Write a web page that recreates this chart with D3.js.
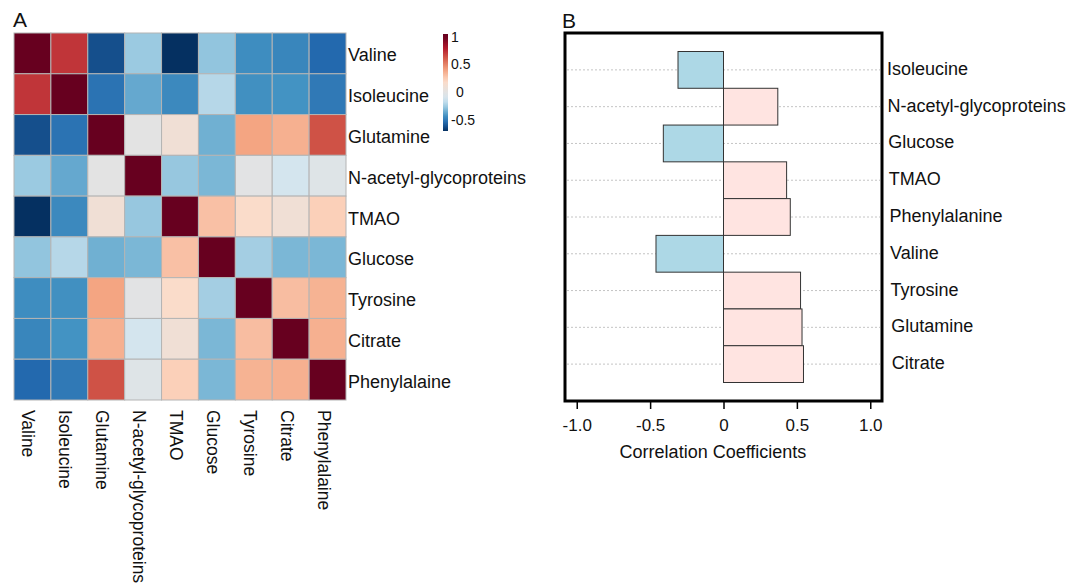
<!DOCTYPE html>
<html>
<head>
<meta charset="utf-8">
<script src="https://cdn.jsdelivr.net/npm/d3@7"></script>
<style>
  body { margin: 0; background: #fff; }
  text { font-family: "Liberation Sans", Arial, sans-serif; fill: #111; }
</style>
</head>
<body>
<div id="chart"></div>
<script>
// panel A: correlation matrix
const heatLabels = ["Valine", "Isoleucine", "Glutamine", "N-acetyl-glycoproteins", "TMAO",
  "Glucose", "Tyrosine", "Citrate", "Phenylalaine"];
const heatValues = [
  [1.00, 0.72, -0.62, -0.26, -0.70, -0.28, -0.44, -0.46, -0.55],
  [0.72, 1.00, -0.52, -0.36, -0.45, -0.20, -0.43, -0.42, -0.50],
  [-0.62, -0.52, 1.00, 0.00, 0.10, -0.34, 0.40, 0.36, 0.64],
  [-0.26, -0.36, 0.00, 1.00, -0.27, -0.32, -0.01, -0.12, -0.04],
  [-0.70, -0.45, 0.10, -0.27, 1.00, 0.30, 0.18, 0.10, 0.24],
  [-0.28, -0.20, -0.34, -0.32, 0.30, 1.00, -0.24, -0.32, -0.32],
  [-0.44, -0.43, 0.40, -0.01, 0.18, -0.24, 1.00, 0.31, 0.35],
  [-0.46, -0.42, 0.36, -0.12, 0.10, -0.32, 0.31, 1.00, 0.36],
  [-0.55, -0.50, 0.64, -0.04, 0.24, -0.32, 0.35, 0.36, 1.00]
];
const colorTicks = [-0.5, 0, 0.5, 1];

// panel B: correlation coefficients
const barLabels = ["Isoleucine", "N-acetyl-glycoproteins", "Glucose", "TMAO", "Phenylalanine",
  "Valine", "Tyrosine", "Glutamine", "Citrate"];
const barValues = [-0.31, 0.37, -0.41, 0.43, 0.455, -0.46, 0.525, 0.535, 0.545];
const barTicks = [-1, -0.5, 0, 0.5, 1];

const width = 1083, height = 586;

const svg = d3.select("#chart")
  .append("svg")
  .attr("width", width)
  .attr("height", height);

// RdBu-like ramp with a greyish middle
const ramp = d3.piecewise(d3.interpolateRgb, ["#053061", "#2166ac", "#4393c3", "#92c5de", "#d1e5f0",
  "#e3e3e3", "#fddbc7", "#f4a582", "#d6604d", "#b2182b", "#67001f"]);
const color = d3.scaleDiverging()
  .domain([-0.7, 0, 1])
  .interpolator(ramp)
  .clamp(true);

// ---------- A ----------
const hx = d3.scaleBand().domain(heatLabels).range([14, 346]);
const hy = d3.scaleBand().domain(heatLabels).range([33, 400]);

svg.append("text")
  .attr("x", 13).attr("y", 27)
  .style("font-size", "21px")
  .text("A");

const cells = [];
heatValues.forEach(function (row, i) {
  row.forEach(function (v, j) {
    cells.push({ r: heatLabels[i], c: heatLabels[j], v: v });
  });
});

svg.append("g")
  .selectAll("rect")
  .data(cells)
  .enter()
  .append("rect")
  .attr("x", d => hx(d.c))
  .attr("y", d => hy(d.r))
  .attr("width", hx.bandwidth())
  .attr("height", hy.bandwidth())
  .attr("fill", d => color(d.v))
  .attr("stroke", "#b4b4b4")
  .attr("stroke-width", 1);

svg.append("g")
  .selectAll("text")
  .data(heatLabels)
  .enter()
  .append("text")
  .attr("x", 348)
  .attr("y", d => hy(d) + hy.bandwidth() / 2 + 2)
  .attr("dominant-baseline", "central")
  .style("font-size", "18px")
  .text(d => d);

svg.append("g")
  .selectAll("text")
  .data(heatLabels)
  .enter()
  .append("text")
  .attr("transform", d => "translate(" + (hx(d) + hx.bandwidth() / 2 - 4) + ",410) rotate(90)")
  .attr("dominant-baseline", "central")
  .style("font-size", "17.5px")
  .text(d => d);

// colour bar
const cb = d3.scaleLinear().domain([-0.7, 1.05]).range([131, 34]);
const grad = svg.append("defs").append("linearGradient")
  .attr("id", "cbar")
  .attr("x1", 0).attr("y1", 1).attr("x2", 0).attr("y2", 0);
d3.range(0, 1.0001, 0.05).forEach(function (t) {
  grad.append("stop")
    .attr("offset", t)
    .attr("stop-color", color(cb.domain()[0] + t * (cb.domain()[1] - cb.domain()[0])));
});
svg.append("rect")
  .attr("x", 443).attr("y", cb(1.05))
  .attr("width", 5).attr("height", cb(-0.7) - cb(1.05))
  .attr("fill", "url(#cbar)");

const cbAxis = svg.append("g")
  .attr("transform", "translate(448,0)")
  .call(d3.axisRight(cb).tickValues(colorTicks).tickSize(0).tickPadding(4)
    .tickFormat(d => d === 0 ? "0" : String(d)));
cbAxis.select(".domain").remove();
cbAxis.selectAll("text")
  .style("font-size", "14px")
  .style("font-family", "'Liberation Sans', Arial, sans-serif")
  .attr("x", d => d === 0 ? 8 : 3);

// ---------- B ----------
const bx = d3.scaleLinear().domain([-1.08, 1.08]).range([565, 882]);
const by = d3.scaleBand().domain(barLabels).range([51.5, 382.5]).padding(0);

svg.append("text")
  .attr("x", 562).attr("y", 28)
  .style("font-size", "21px")
  .text("B");

svg.append("g")
  .selectAll("line")
  .data(barLabels)
  .enter()
  .append("line")
  .attr("x1", 567).attr("x2", 880)
  .attr("y1", d => by(d) + by.bandwidth() / 2)
  .attr("y2", d => by(d) + by.bandwidth() / 2)
  .attr("stroke", "#c4c4c4")
  .attr("stroke-width", 1)
  .attr("stroke-dasharray", "2,2");

const bars = barLabels.map((d, i) => ({ name: d, v: barValues[i] }));
svg.append("g")
  .selectAll("rect")
  .data(bars)
  .enter()
  .append("rect")
  .attr("x", d => bx(Math.min(0, d.v)))
  .attr("y", d => by(d.name))
  .attr("width", d => Math.abs(bx(d.v) - bx(0)))
  .attr("height", by.bandwidth())
  .attr("fill", d => d.v < 0 ? "#add8e6" : "#ffe4e1")
  .attr("stroke", "#333")
  .attr("stroke-width", 1);

svg.append("rect")
  .attr("x", 565).attr("y", 33)
  .attr("width", 317).attr("height", 368)
  .attr("fill", "none")
  .attr("stroke", "#000")
  .attr("stroke-width", 3);

svg.append("g")
  .selectAll("text")
  .data(barLabels)
  .enter()
  .append("text")
  .attr("x", (d, i) => 887 + i * 0.6)
  .attr("y", d => by(d) + by.bandwidth() / 2 - 1)
  .attr("dominant-baseline", "central")
  .style("font-size", "18px")
  .text(d => d);

// plain hyphen for negatives, as in the original
const fmt = d => d === 0 ? "0" : d3.format(".1f")(d).replace("\u2212", "-");
const xAxis = svg.append("g")
  .attr("transform", "translate(0,401)")
  .call(d3.axisBottom(bx).tickValues(barTicks).tickSize(8).tickPadding(10).tickFormat(fmt));
xAxis.select(".domain").remove();
xAxis.selectAll("line").attr("stroke", "#000").attr("stroke-width", 1.5);
xAxis.selectAll("text")
  .style("font-size", "17px")
  .style("font-family", "'Liberation Sans', Arial, sans-serif")
  .attr("fill", "#111");

svg.append("text")
  .attr("x", 713).attr("y", 452)
  .attr("text-anchor", "middle")
  .attr("dominant-baseline", "central")
  .style("font-size", "18px")
  .text("Correlation Coefficients");
</script>
</body>
</html>
